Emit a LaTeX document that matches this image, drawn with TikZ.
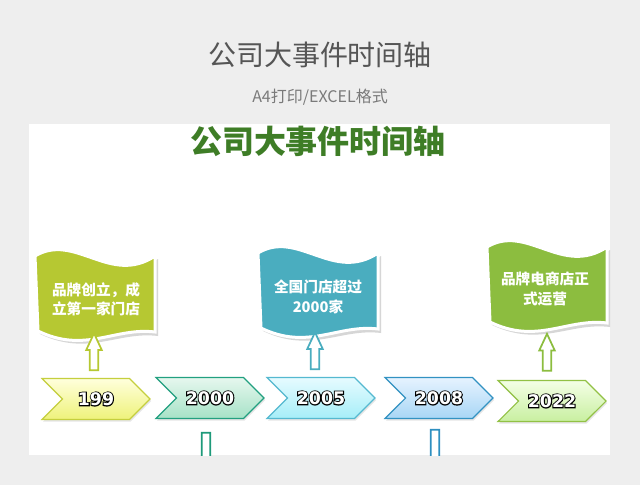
\documentclass[tikz,border=0pt]{standalone}
\usepackage{fontspec}
\setmainfont{Noto Sans CJK SC}
\newfontfamily\yearfont{DejaVu Sans Bold}
\newfontfamily\yearedge{DejaVu Sans Bold}[FakeBold=12]
\usetikzlibrary{positioning, shapes.symbols, shapes.arrows, shadows}

\definecolor{bgGray}{HTML}{EEEEEE}
\definecolor{titleGray}{HTML}{555555}
\definecolor{subGray}{HTML}{7A7A7A}
\definecolor{titleGreen}{HTML}{3E7D26}
\definecolor{flagLime}{HTML}{B6C832}
\definecolor{flagTeal}{HTML}{4AADBF}
\definecolor{flagGreen}{HTML}{8CBD3F}
\definecolor{stemGreen}{HTML}{1E9A7A}
\definecolor{stemBlue}{HTML}{2E8FC0}
\definecolor{yelTop}{HTML}{FFFFDC}
\definecolor{yelBot}{HTML}{EEF27A}
\definecolor{yelLine}{HTML}{C5CF3E}
\definecolor{grnTop}{HTML}{E6F7EF}
\definecolor{grnBot}{HTML}{A6E2C6}
\definecolor{grnLine}{HTML}{22A080}
\definecolor{cyaTop}{HTML}{E6FBFF}
\definecolor{cyaBot}{HTML}{A6EEF8}
\definecolor{cyaLine}{HTML}{55B9D0}
\definecolor{bluTop}{HTML}{E6F3FF}
\definecolor{bluBot}{HTML}{A8D6F5}
\definecolor{bluLine}{HTML}{3292C2}
\definecolor{limTop}{HTML}{F4FFE6}
\definecolor{limBot}{HTML}{C8EFA0}
\definecolor{limLine}{HTML}{92C145}

% outlined year digits: black widened copy under a white one
\newcommand{\yeartext}[1]{\makebox[0pt]{\yearedge\color{black}#1}\makebox[0pt]{\yearfont\color{white}#1}}

\tikzset{
    pics/flag/.style={
        code={
            % shadow, then the waving cloth
            \fill[black!16] (2,3) .. controls (42,-21) and (77,33) .. (123,3)
                -- (123,80) .. controls (83,75) and (53,101) .. (5,78) -- cycle;
            \filldraw[draw=white, line width=2.25pt, fill=#1]
                (0,0) .. controls (40,-24) and (75,30) .. (120,0)
                -- (120,76) .. controls (80,71) and (50,98) .. (3,75) -- cycle;
        }
    }
}

\begin{document}
\begin{tikzpicture}[
    x=0.75pt, y=-0.75pt,
    yearbox/.style={
        signal,
        signal from=west,
        signal to=east,
        draw=#1Line,
        top color=#1Top,
        bottom color=#1Bot,
        line width=0.8pt,
        minimum width=81pt,
        minimum height=30.75pt,
        inner sep=0pt,
        font=\fontsize{13}{13}\selectfont,
        drop shadow={opacity=0.2, shadow xshift=0.8pt, shadow yshift=-1.5pt}
    },
    uparrow/.style={
        single arrow,
        draw=#1,
        fill=white,
        line width=1.3pt,
        rotate=90,
        minimum height=27.75pt,
        inner xsep=0pt,
        inner ysep=2.6pt,
        single arrow head extend=2.6pt,
        single arrow tip angle=50
    },
    downarrow/.style={
        uparrow=#1,
        rotate=180,
        minimum height=45pt
    },
    flagtext/.style={
        text=white,
        align=center,
        font=\bfseries\fontsize{11}{14.5}\selectfont
    }
]

    \useasboundingbox (0,0) rectangle (640,485);
    \fill[bgGray] (0,0) rectangle (640,485);
    \fill[white] (29,124) rectangle (610,455);

    % Titles
    \node[text=titleGray, font=\fontsize{21}{24}\selectfont] (maintitle) at (320,55) {公司大事件时间轴};
    \node[text=subGray, font=\fontsize{12}{14}\selectfont] (subtitle) at (320,97) {A4打印/EXCEL格式};
    \node[text=titleGreen, font=\bfseries\fontsize{24}{26}\selectfont] (charttitle) at (318,141) {公司大事件时间轴};

    % Flags
    \pic at (35,256) {flag=flagLime};
    \pic at (258,253) {flag=flagTeal};
    \pic at (487,247) {flag=flagGreen};

    \node[flagtext] (event1) at (96,299) {品牌创立，成\\立第一家门店};
    \node[flagtext] (event2) at (318,297) {全国门店超过\\2000家};
    \node[flagtext] (event3) at (545,289) {品牌电商店正\\式运营};

    % Years
    \node[yearbox=yel] (y1) at (96,399) {\yeartext{199}};
    \node[yearbox=grn] (y2) at (210,398) {\yeartext{2000}};
    \node[yearbox=cya] (y3) at (321,398) {\yeartext{2005}};
    \node[yearbox=blu] (y4) at (439,398) {\yeartext{2008}};
    \node[yearbox=lim] (y5) at (552,401) {\yeartext{2022}};

    % Arrows up to the flags
    \node[uparrow=flagLime] (a1) at (94,356.5) {};
    \node[uparrow=flagTeal] (a2) at (315,355.5) {};
    \node[uparrow=flagGreen] (a3) at (547,357) {};

    % Arrows down, cut by the panel edge
    \begin{scope}
        \clip (29,124) rectangle (610,455);
        \node[downarrow=stemGreen] (a4) at (206,458) {};
        \node[downarrow=stemBlue] (a5) at (435,455) {};
    \end{scope}

\end{tikzpicture}
\end{document}
